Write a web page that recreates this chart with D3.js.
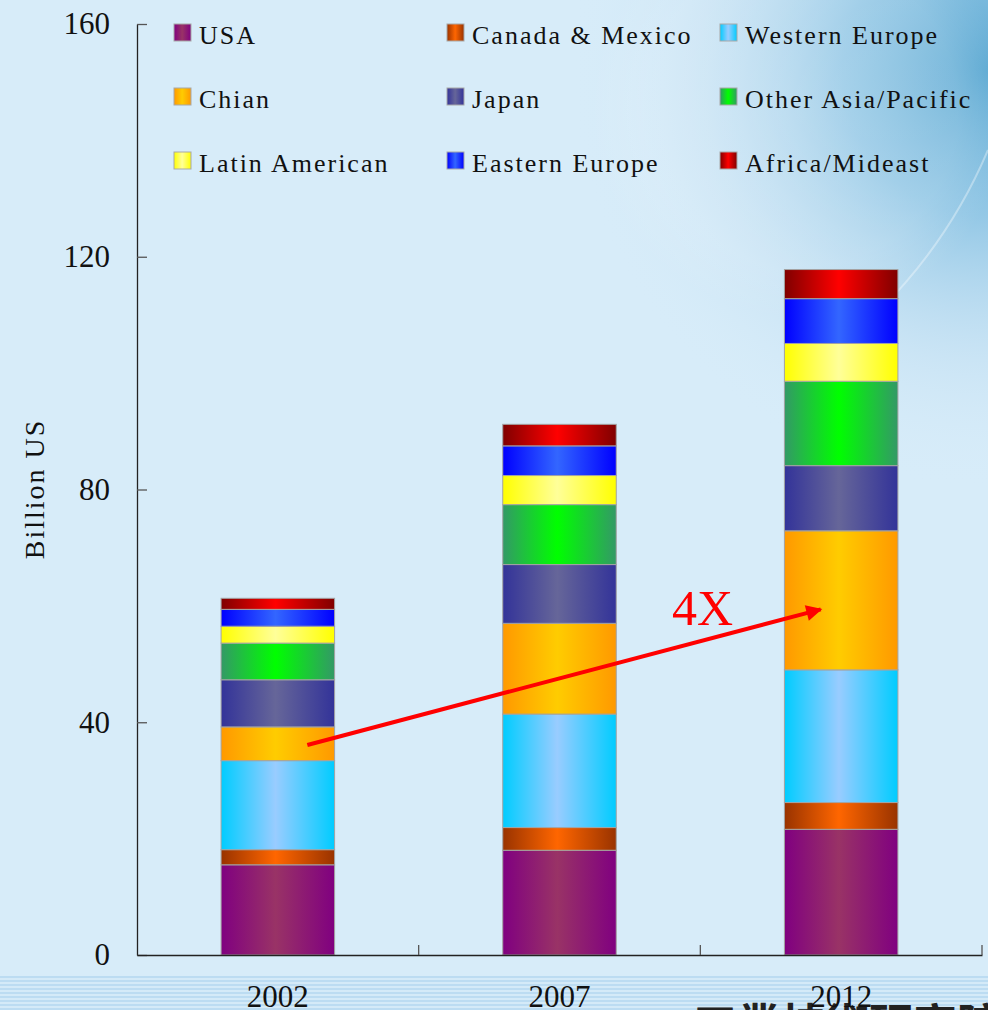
<!DOCTYPE html>
<html>
<head>
<meta charset="utf-8">
<script src="https://cdn.jsdelivr.net/npm/d3@7"></script>
<style>
  html, body { margin: 0; padding: 0; background: #d7ecf9; overflow: hidden; }
  svg text { font-family: "Liberation Serif", "DejaVu Serif", serif; fill: #111; }
</style>
</head>
<body>
<div class="chart"></div>
<script>
// data (billion US$ per region, stacked)
const years = ["2002", "2007", "2012"];
const regions = ["USA", "Canada & Mexico", "Western Europe", "Chian", "Japan",
                 "Other Asia/Pacific", "Latin American", "Eastern Europe", "Africa/Mideast"];
const usa       = [15.5, 18.0, 21.6];
const canMex    = [2.6, 3.9, 4.6];
const westEur   = [15.3, 19.5, 22.8];
const china     = [5.8, 15.6, 23.9];
const japan     = [8.1, 10.1, 11.2];
const otherAsia = [6.3, 10.3, 14.5];
const latinAm   = [2.9, 5.0, 6.5];
const eastEur   = [2.9, 5.1, 7.7];
const africa    = [1.9, 3.7, 5.0];
const yTicks = [0, 40, 80, 120, 160];
// "4X" arrow, in data units: [year, value] at both ends
const arrowFrom = ["2002", 36.1];
const arrowTo = ["2012", 59.4];

// edge colour / centre colour of each region's horizontal gradient
const edgeColors   = ["#800080", "#993300", "#00ccff", "#ff9900", "#333399", "#339966", "#ffff00", "#0000ff", "#800000"];
const centerColors = ["#993366", "#ff6600", "#99ccff", "#ffcc00", "#666699", "#00ff00", "#ffff99", "#3366ff", "#ff0000"];

const series = [usa, canMex, westEur, china, japan, otherAsia, latinAm, eastEur, africa];
const table = years.map((yr, i) => {
  const row = { year: yr };
  regions.forEach((r, k) => { row[r] = series[k][i]; });
  return row;
});

const w = 988, h = 1010;
const svg = d3.select(".chart").append("svg")
  .attr("width", w)
  .attr("height", h);

const defs = svg.append("defs");

// background: globe glow top right
const glow = defs.append("radialGradient").attr("id", "glow")
  .attr("cx", 990).attr("cy", 70).attr("r", 420).attr("gradientUnits", "userSpaceOnUse");
glow.append("stop").attr("offset", "0%").attr("stop-color", "rgb(85,165,208)").attr("stop-opacity", 0.95);
glow.append("stop").attr("offset", "35%").attr("stop-color", "rgb(120,185,222)").attr("stop-opacity", 0.7);
glow.append("stop").attr("offset", "70%").attr("stop-color", "rgb(180,215,238)").attr("stop-opacity", 0.35);
glow.append("stop").attr("offset", "100%").attr("stop-color", "#d7ecf9").attr("stop-opacity", 0);

// soft lighter globe
const globe = defs.append("radialGradient").attr("id", "globe");
globe.append("stop").attr("offset", "0%").attr("stop-color", "#ffffff").attr("stop-opacity", 0.18);
globe.append("stop").attr("offset", "75%").attr("stop-color", "#ffffff").attr("stop-opacity", 0.12);
globe.append("stop").attr("offset", "100%").attr("stop-color", "#ffffff").attr("stop-opacity", 0);

const stripes = defs.append("pattern").attr("id", "stripes")
  .attr("width", 8).attr("height", 4).attr("patternUnits", "userSpaceOnUse");
stripes.append("rect").attr("width", 8).attr("height", 4).attr("fill", "#d4eaf8");
stripes.append("rect").attr("width", 8).attr("height", 2).attr("fill", "#bcdcf2");

regions.forEach((r, k) => {
  const g = defs.append("linearGradient").attr("id", "grad" + k)
    .attr("x1", "0%").attr("x2", "100%").attr("y1", "0%").attr("y2", "0%");
  g.append("stop").attr("offset", "0%").attr("stop-color", edgeColors[k]);
  g.append("stop").attr("offset", "48%").attr("stop-color", centerColors[k]);
  g.append("stop").attr("offset", "100%").attr("stop-color", edgeColors[k]);
});

defs.append("marker").attr("id", "head")
  .attr("viewBox", "0 0 10 10").attr("refX", 9).attr("refY", 5)
  .attr("markerWidth", 5).attr("markerHeight", 4).attr("orient", "auto")
  .attr("markerUnits", "strokeWidth")
  .append("path").attr("d", "M0,0 L10,5 L0,10 z").attr("fill", "#ff0000");

svg.append("rect").attr("width", w).attr("height", h).attr("fill", "#d7ecf9");
svg.append("rect").attr("width", w).attr("height", h).attr("fill", "url(#glow)");
svg.append("circle").attr("cx", 800).attr("cy", 110).attr("r", 210)
  .attr("fill", "url(#globe)");
svg.append("path").attr("d", "M988,150 Q950,240 880,310")
  .attr("fill", "none").attr("stroke", "#ffffff").attr("stroke-opacity", 0.35).attr("stroke-width", 2);
svg.append("rect").attr("x", 0).attr("y", 976).attr("width", w).attr("height", h - 976)
  .attr("fill", "url(#stripes)");
svg.append("text")
  .attr("x", 693).attr("y", 1041)
  .style("font-family", "'Noto Sans CJK TC', sans-serif")
  .style("font-weight", "bold")
  .style("font-size", "44px")
  .style("fill", "#222")
  .text("工業技術研究院");

// scales
const x = d3.scaleBand()
  .domain(years)
  .range([137, 982])
  .paddingInner(0.597)
  .paddingOuter(0.2985);
const y = d3.scaleLinear()
  .domain([0, 160])
  .range([955, 24]);

const stacked = d3.stack().keys(regions)(table);

// bars
svg.append("g").selectAll("g")
  .data(stacked)
  .enter()
  .append("g")
  .attr("fill", (d, k) => "url(#grad" + k + ")")
  .selectAll("rect")
  .data(d => d)
  .enter()
  .append("rect")
  .attr("x", d => x(d.data.year))
  .attr("y", d => y(d[1]))
  .attr("width", x.bandwidth())
  .attr("height", d => y(d[0]) - y(d[1]))
  .attr("stroke", "#a3a3a3")
  .attr("stroke-width", 1);

// y axis, ticks pointing into the plot
const yAxis = svg.append("g")
  .attr("transform", "translate(137,0)")
  .call(d3.axisLeft(y).tickValues(yTicks).tickSizeInner(-10).tickSizeOuter(0).tickPadding(27));
yAxis.select(".domain").attr("stroke", "#222").attr("stroke-width", 1.3);
yAxis.selectAll(".tick line").attr("stroke", "#555").attr("stroke-width", 1.3);
yAxis.selectAll("text").style("font-size", "31px").style("font-family", "'Liberation Serif', serif").attr("fill", "#111");

// x axis with labels under the bars and ticks at the category borders
const xAxis = svg.append("g")
  .attr("transform", "translate(0,955)")
  .call(d3.axisBottom(x).tickSizeInner(0).tickSizeOuter(0).tickPadding(30));
xAxis.select(".domain").attr("stroke", "#222").attr("stroke-width", 1.5);
xAxis.selectAll("text").style("font-size", "31px").style("font-family", "'Liberation Serif', serif").attr("fill", "#111");
xAxis.selectAll(".border")
  .data(years)
  .enter()
  .append("line")
  .classed("border", true)
  .attr("x1", (d, i) => x.range()[0] + x.step() * (i + 1))
  .attr("x2", (d, i) => x.range()[0] + x.step() * (i + 1))
  .attr("y1", 0)
  .attr("y2", -10)
  .attr("stroke", "#555")
  .attr("stroke-width", 1.3);

svg.append("text")
  .attr("transform", "translate(44,489) rotate(-90)")
  .style("text-anchor", "middle")
  .style("font-size", "28px")
  .style("letter-spacing", "2px")
  .text("Billion US");

// legend, 3 columns
const legend = svg.append("g").selectAll("g")
  .data(regions)
  .enter()
  .append("g")
  .attr("transform", (d, i) => "translate(" + (174 + (i % 3) * 273) + "," + (24 + Math.floor(i / 3) * 64) + ")");
legend.append("rect")
  .attr("width", 17).attr("height", 17)
  .attr("fill", (d, i) => "url(#grad" + i + ")")
  .attr("stroke", "#a8a8a8").attr("stroke-width", 1);
legend.append("text")
  .attr("x", 25).attr("y", 20)
  .style("font-size", "26px")
  .style("letter-spacing", "2px")
  .text(d => d);

// growth arrow
const ax1 = x(arrowFrom[0]) + x.bandwidth() * 0.76;
const ax2 = x(arrowTo[0]) + x.bandwidth() * 0.32;
svg.append("line")
  .attr("x1", ax1).attr("y1", y(arrowFrom[1]))
  .attr("x2", ax2).attr("y2", y(arrowTo[1]))
  .attr("stroke", "#ff0000")
  .attr("stroke-width", 4)
  .attr("marker-end", "url(#head)");
svg.append("text")
  .attr("x", 672).attr("y", 625)
  .style("font-size", "50px")
  .style("fill", "#ff0000")
  .text("4X");
</script>
</body>
</html>
